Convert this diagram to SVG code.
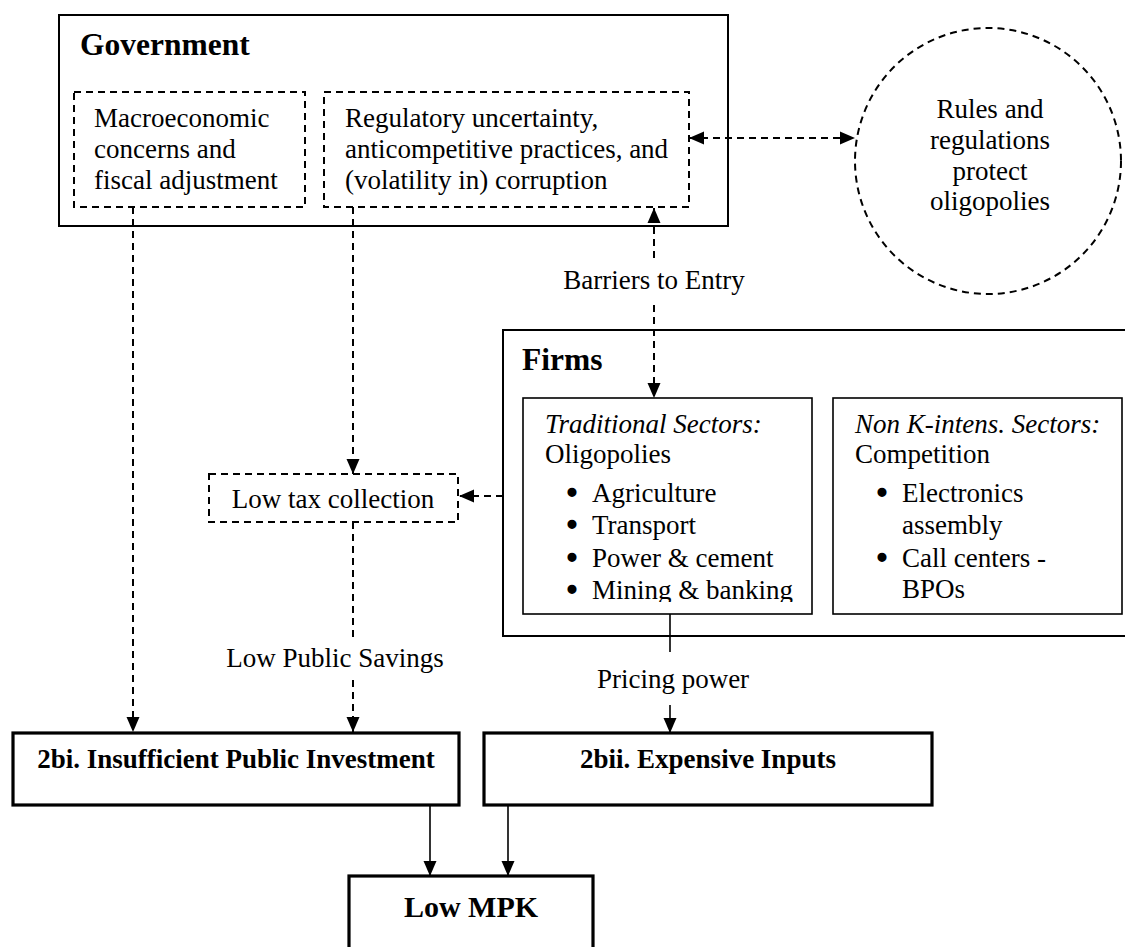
<svg xmlns="http://www.w3.org/2000/svg" width="1125" height="947" viewBox="0 0 1125 947">
<style>
text{font-family:"Liberation Serif","Times New Roman",serif;fill:#000}
.t{font-size:27px}
.h{font-size:31.5px;font-weight:bold}
.b{font-size:27px;font-weight:bold}
.i{font-style:italic}
.mid{text-anchor:middle}
.bul{font-size:27px;text-anchor:middle;stroke:#000;stroke-width:2.6;stroke-linejoin:round}
.box{fill:#fff;stroke:#000;stroke-width:2}
.thin{fill:#fff;stroke:#000;stroke-width:1.6}
.thick{fill:#fff;stroke:#000;stroke-width:3.2}
.dbox{fill:#fff;stroke:#000;stroke-width:2;stroke-dasharray:7,5}
.dl{fill:none;stroke:#000;stroke-width:2;stroke-dasharray:7,5}
.sl{fill:none;stroke:#000;stroke-width:1.6}
</style>
<defs>
<marker id="ah" markerUnits="userSpaceOnUse" markerWidth="16" markerHeight="14" refX="15" refY="7" orient="auto-start-reverse" viewBox="0 0 16 14">
<path d="M0,0.5 L15,7 L0,13.5 z" fill="#000" stroke="none"/>
</marker>
<clipPath id="tradclip"><rect x="523" y="398" width="289" height="204"/></clipPath>
</defs>
<rect width="1125" height="947" fill="#fff"/>

<g id="government">
<rect class="box" x="59" y="15" width="669" height="211"/>
<text class="h" x="80" y="55">Government</text>
</g>
<g id="macro">
<rect class="dbox" x="74" y="92" width="231" height="115"/>
<text class="t" x="94" y="127">Macroeconomic</text>
<text class="t" x="94" y="158">concerns and</text>
<text class="t" x="94" y="189">fiscal adjustment</text>
</g>
<g id="regulatory">
<rect class="dbox" x="324" y="92" width="365" height="115"/>
<text class="t" x="345" y="127">Regulatory uncertainty,</text>
<text class="t" x="345" y="158">anticompetitive practices, and</text>
<text class="t" x="345" y="189">(volatility in) corruption</text>
</g>
<g id="rules">
<circle class="dbox" cx="988" cy="161" r="133"/>
<text class="t mid" x="990" y="118">Rules and</text>
<text class="t mid" x="990" y="149">regulations</text>
<text class="t mid" x="990" y="180">protect</text>
<text class="t mid" x="990" y="210">oligopolies</text>
</g>
<g id="firms">
<rect class="box" x="503" y="330" width="630" height="306"/>
<text class="h" x="522" y="370">Firms</text>
</g>
<g id="traditional">
<rect class="thin" x="523" y="398" width="289" height="216"/>
<g clip-path="url(#tradclip)">
<text class="t i" x="545" y="433">Traditional Sectors:</text>
<text class="t" x="545" y="463">Oligopolies</text>
<text class="bul" x="572" y="502">•</text><text class="t" x="592" y="502">Agriculture</text>
<text class="bul" x="572" y="534">•</text><text class="t" x="592" y="534">Transport</text>
<text class="bul" x="572" y="567">•</text><text class="t" x="592" y="567">Power &amp; cement</text>
<text class="bul" x="572" y="599">•</text><text class="t" x="592" y="599">Mining &amp; banking</text>
</g>
</g>
<g id="nonk">
<rect class="thin" x="833" y="398" width="289" height="216"/>
<text class="t i" x="855" y="433">Non K-intens. Sectors:</text>
<text class="t" x="855" y="463">Competition</text>
<text class="bul" x="882" y="502">•</text><text class="t" x="902" y="502">Electronics</text>
<text class="t" x="902" y="534">assembly</text>
<text class="bul" x="882" y="567">•</text><text class="t" x="902" y="567">Call centers -</text>
<text class="t" x="902" y="598">BPOs</text>
</g>
<g id="lowtax">
<rect class="dbox" x="209" y="474" width="249" height="48"/>
<text class="t mid" x="333" y="508">Low tax collection</text>
</g>
<g id="publicinv">
<rect class="thick" x="13" y="733" width="446" height="72"/>
<text class="b mid" x="236" y="768">2bi. Insufficient Public Investment</text>
</g>
<g id="inputs">
<rect class="thick" x="484" y="733" width="448" height="72"/>
<text class="b mid" x="708" y="768">2bii. Expensive Inputs</text>
</g>
<g id="lowmpk">
<rect class="thick" x="349" y="876" width="244" height="80"/>
<text class="b mid" x="471" y="917" style="font-size:30px">Low MPK</text>
</g>

<g id="connectors">
<line class="dl" x1="133" y1="207" x2="133" y2="732" marker-end="url(#ah)"/>
<line class="dl" x1="353" y1="207" x2="353" y2="474" marker-end="url(#ah)"/>
<line class="dl" x1="353" y1="522" x2="353" y2="642"/>
<line class="dl" x1="353" y1="680" x2="353" y2="732" marker-end="url(#ah)"/>
<line class="dl" x1="503" y1="496" x2="459" y2="496" marker-end="url(#ah)"/>
<line class="dl" x1="689" y1="138" x2="855" y2="138" marker-start="url(#ah)" marker-end="url(#ah)"/>
<line class="dl" x1="654" y1="258" x2="654" y2="208" marker-end="url(#ah)"/>
<line class="dl" x1="654" y1="305" x2="654" y2="398" marker-end="url(#ah)"/>
<line class="sl" x1="670" y1="614" x2="670" y2="652"/>
<line class="sl" x1="670" y1="705" x2="670" y2="733" marker-end="url(#ah)"/>
<line class="sl" x1="430" y1="805" x2="430" y2="876" marker-end="url(#ah)"/>
<line class="sl" x1="508" y1="805" x2="508" y2="876" marker-end="url(#ah)"/>
<text class="t mid" x="654" y="289">Barriers to Entry</text>
<text class="t mid" x="335" y="667">Low Public Savings</text>
<text class="t mid" x="673" y="688">Pricing power</text>
</g>
</svg>
